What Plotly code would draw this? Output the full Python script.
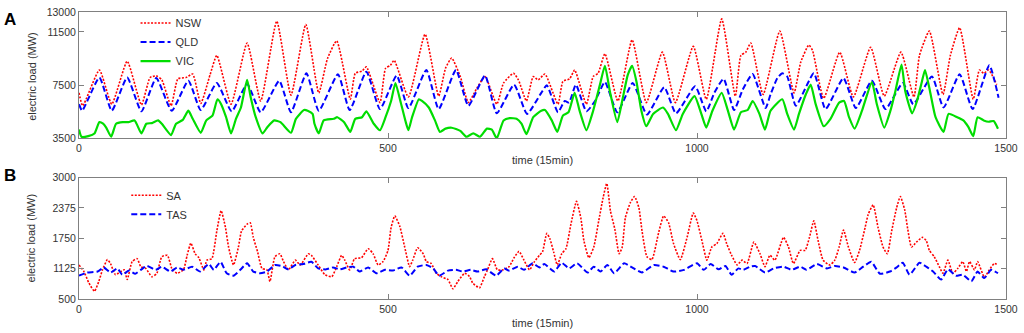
import plotly.graph_objects as go

# ---------------- Panel A data (time index in 15-min steps, load in MW) ----------------
nsw_t = [0, 6, 33, 53, 78, 101, 115, 125, 134, 149, 160, 173, 184, 197, 212, 223, 246, 272, 294, 320,
         343, 367, 388, 402, 417, 439, 447, 458, 465, 487, 496, 504, 510, 533, 560, 582, 593, 603, 617, 630,
         644, 657, 676, 687, 703, 711, 724, 735, 743, 754, 775, 783, 794, 802, 821, 832, 840, 851, 872, 895,
         918, 944, 965, 994, 1015, 1040, 1062, 1071, 1079, 1087, 1107, 1134, 1157, 1168, 1181, 1187, 1205,
         1231, 1253, 1281, 1303, 1330, 1351, 1360, 1376, 1398, 1410, 1425, 1447, 1457, 1464, 1472, 1485]
nsw_v = [6920, 5950, 8640, 6070, 9300, 6020, 8070, 8200, 7900, 5950, 7980, 8070, 8340, 6120, 8270, 9740, 6070, 10670, 6310, 12310,
         6750, 12060, 6920, 9490, 10840, 6440, 8390, 8560, 8880, 6190, 8760, 9000, 9370, 6610, 11330, 6680, 8760, 9540, 8150, 6190,
         7290, 8150, 6070, 7660, 8390, 7900, 6310, 8150, 7900, 8340, 6070, 7780, 7980, 8640, 6070, 8150, 8390, 9860, 6310, 10910,
         6190, 9980, 6190, 10420, 6440, 12480, 6680, 9740, 9980, 10670, 6800, 11570, 6920, 9250, 10520, 10100, 6510,
         9980, 6610, 10350, 6680, 9980, 6610, 9740, 11570, 6800, 9740, 11820, 6440, 8640, 8390, 8640, 7540]

qld_t = [0, 5, 33, 53, 78, 101, 125, 150, 177, 197, 223, 247, 272, 294, 324, 343, 368, 388, 419, 438,
         465, 487, 514, 533, 562, 582, 610, 630, 657, 676, 704, 725, 748, 757, 775, 786, 793, 804, 821, 835,
         851, 871, 896, 919, 947, 966, 997, 1015, 1028, 1043, 1060, 1074, 1090, 1111, 1119, 1130, 1138, 1146,
         1160, 1189, 1208, 1237, 1257, 1283, 1305, 1333, 1350, 1380, 1399, 1425, 1446, 1473, 1488]
qld_v = [6070, 5580, 8070, 5580, 8070, 5530, 8030, 5580, 7830, 5630, 7660, 5530, 7590, 5460, 7830, 5460, 8390, 5580, 8320, 5630,
         8510, 5700, 8220, 5780, 8640, 5700, 8640, 5950, 8220, 5380, 7540, 5340, 6920, 7490, 5460, 6310, 6190, 7540, 5530, 6310,
         7730, 5460, 7660, 5290, 7340, 5380, 7410, 5530, 6920, 7980, 5630, 7170, 8340, 5780, 6800, 8030, 8390, 8150,
         5950, 8390, 5700, 8030, 5780, 7830, 5700, 7660, 6070, 8150, 5820, 8320, 5700, 9000, 6560]

vic_t = [0, 4, 15, 25, 33, 39, 44, 52, 60, 71, 80, 90, 101, 109, 118, 128, 134, 149, 157, 168,
         177, 184, 197, 206, 216, 224, 230, 238, 246, 254, 262, 272, 278, 286, 297, 305, 316, 326, 343, 351,
         364, 370, 378, 381, 388, 396, 412, 418, 429, 439, 447, 458, 465, 477, 487, 496, 505, 512, 520, 528,
         533, 539, 550, 555, 566, 576, 584, 593, 603, 617, 627, 638, 649, 660, 668, 676, 687, 697, 708, 716,
         724, 735, 748, 754, 765, 774, 783, 792, 802, 810, 821, 832, 843, 851, 859, 871, 880, 888, 895, 902,
         910, 918, 929, 945, 953, 966, 977, 996, 1007, 1015, 1025, 1040, 1050, 1060, 1071, 1082, 1090, 1101,
         1110, 1119, 1138, 1146, 1157, 1165, 1176, 1184, 1192, 1205, 1216, 1230, 1238, 1246, 1255, 1267, 1283,
         1291, 1303, 1313, 1321, 1331, 1337, 1348, 1356, 1364, 1369, 1377, 1386, 1399, 1407, 1421, 1431, 1439,
         1447, 1454, 1464, 1472, 1480, 1487]
vic_v = [4160, 3620, 3670, 3870, 4720, 4600, 4310, 3620, 4600, 4720, 4720, 4850, 3870, 4600, 4650, 4850, 4600, 3750, 4600, 4890,
         5580, 4970, 3920, 4850, 5210, 6440, 6070, 5090, 3870, 4970, 5820, 7900, 6560, 5090, 3870, 4360, 4850, 4720, 3920, 4970,
         5630, 5580, 5340, 4600, 3870, 4850, 4970, 5090, 4720, 3990, 4970, 5090, 5530, 4600, 4110, 5090, 6310, 7660, 6310, 4850,
         4110, 5090, 6440, 6310, 5820, 4850, 3990, 4230, 4300, 4060, 3620, 3870, 3620, 4230, 4160, 3500, 4850, 5020, 4970, 4600,
         3820, 5090, 5580, 5630, 4850, 3990, 5210, 5460, 6920, 5580, 4110, 5580, 7540, 8960, 7050, 4720, 6560, 8270, 8960, 7780,
         5580, 4410, 5340, 5820, 5340, 4110, 5340, 6680, 5340, 4310, 5580, 6920, 5580, 4160, 5460, 5630, 6310, 5340,
         4160, 5580, 6440, 5340, 4160, 5340, 6800, 7540, 6070, 4410, 4970, 6190, 6310, 5090, 4230, 5580, 7730,
         6070, 4310, 5580, 7050, 9050, 7050, 5380, 6310, 7780, 8640, 7050, 5090, 3990, 5340, 5090, 4850, 4360,
         3670, 5090, 4850, 4750, 4800, 4230]

# ---------------- Panel B data ----------------
sa_t = [0, 8, 16, 25, 32, 38, 46, 51, 59, 73, 78, 86, 94, 100, 108, 118, 126, 134, 143, 151,
        159, 169, 175, 181, 188, 194, 202, 207, 215, 223, 230, 237, 242, 250, 258, 263, 272, 277, 282, 289,
        296, 304, 309, 317, 325, 331, 339, 350, 358, 371, 376, 387, 398, 409, 417, 425, 430, 438, 446, 457,
        468, 476, 484, 492, 500, 505, 511, 519, 527, 535, 540, 548, 557, 562, 570, 578, 586, 597, 605, 613,
        624, 632, 637, 648, 656, 661, 669, 677, 686, 696, 704, 712, 720, 729, 737, 745, 750, 757, 762, 768,
        774, 781, 788, 796, 805, 812, 817, 825, 833, 841, 848, 854, 860, 867, 874, 879, 884, 892, 899, 906,
        911, 919, 927, 938, 946, 954, 962, 973, 984, 994, 1000, 1008, 1016, 1024, 1032, 1042, 1048, 1056, 1065, 1073,
        1081, 1092, 1102, 1110, 1118, 1126, 1140, 1148, 1156, 1167, 1175, 1182, 1189, 1196, 1204, 1215, 1223, 1230,
        1237, 1245, 1255, 1263, 1272, 1277, 1285, 1293, 1301, 1308, 1315, 1323, 1329, 1336, 1341, 1347, 1355, 1365,
        1371, 1376, 1384, 1392, 1398, 1406, 1414, 1422, 1430, 1436, 1441, 1449, 1454, 1465, 1473, 1481, 1487]
sa_v = [1200, 1065, 830, 660, 860, 1100, 1310, 1230, 1000, 1100, 900, 1270, 1330, 1165, 1130, 960, 1030, 1370, 1400, 1100,
        1030, 1100, 1400, 1650, 1430, 1350, 1100, 1300, 1330, 1900, 2320, 1970, 1570, 1200, 1570, 1900, 2040, 2070, 1770, 1470,
        1130, 1100, 860, 1370, 1430, 1270, 1100, 1300, 1200, 1430, 1400, 1200, 1000, 960, 1165, 1400, 1300, 1100, 1330, 1350,
        1535, 1430, 1200, 1270, 1500, 1970, 2210, 2000, 1570, 1165, 1300, 1555, 1430, 1270, 1230, 1030, 960, 900, 710, 860,
        1030, 960, 830, 730, 960, 1100, 1330, 1100, 1100, 1165, 1350, 1480, 1300, 1100, 1270, 1400, 1470, 1850, 1740, 1470,
        1200, 1430, 1535, 2040, 2510, 2170, 1700, 1350, 1570, 2110, 2580, 2880, 2310, 1940, 1430, 1570, 2170, 2480, 2610, 2375,
        1905, 1370, 1310, 1870, 2210, 2070, 1640, 1310, 1770, 2270, 2110, 1700, 1300, 1570, 1640, 1850, 1640, 1400, 1200, 1300,
        1230, 1670, 1430, 1165, 1400, 1300, 1770, 1570, 1230, 1500, 1500, 1770, 2110, 1700, 1300, 1200, 1300, 1570,
        1920, 1570, 1250, 1500, 1970, 2240, 2440, 1970, 1570, 1430, 1900, 2375, 2610, 2340, 1940, 1570, 1670, 1770,
        1700, 1500, 1370, 1165, 1030, 1300, 1030, 1130, 1270, 1065, 1270, 1100, 1270, 950, 1100, 1230, 1200]

tas_t = [0, 13, 30, 40, 51, 62, 70, 81, 91, 100, 110, 124, 134, 148, 159, 169, 183, 196, 210, 218,
         229, 239, 250, 261, 272, 282, 293, 304, 317, 328, 339, 350, 363, 376, 387, 400, 411, 422, 433, 444,
         454, 468, 481, 495, 508, 522, 535, 548, 562, 573, 583, 597, 610, 621, 634, 645, 659, 675, 688, 696,
         710, 720, 734, 745, 753, 769, 781, 793, 806, 823, 833, 844, 855, 866, 882, 895, 911, 930, 946, 962,
         979, 1000, 1011, 1022, 1035, 1046, 1056, 1067, 1075, 1086, 1094, 1110, 1124, 1140, 1153, 1167, 1177, 1194,
         1210, 1223, 1237, 1255, 1269, 1282, 1296, 1312, 1323, 1333, 1344, 1360, 1371, 1382, 1395, 1406, 1419, 1430,
         1444, 1454, 1465, 1476, 1487]
tas_v = [980, 1045, 1065, 1150, 1045, 1130, 1000, 1085, 1020, 1100, 1180, 1100, 1165, 1065, 1150, 1100, 1165, 1065, 1220, 1100,
         1265, 1030, 980, 1100, 1235, 1065, 1030, 1065, 1200, 1180, 1110, 1200, 1220, 1265, 1130, 1110, 1150, 1110, 1150, 1165,
         1065, 1150, 1030, 1100, 1085, 1150, 980, 1165, 1200, 1130, 980, 1085, 1100, 1065, 1100, 1065, 1110, 980, 1130, 1085,
         1165, 1100, 1235, 1150, 1220, 1065, 1245, 1130, 1235, 1045, 1165, 1065, 1200, 1030, 1235, 1150, 1045, 1200, 1165, 1065,
         1100, 1235, 1100, 1220, 1110, 1180, 1000, 1130, 1100, 1165, 1180, 1045, 1130, 1165, 1100, 1165, 1100, 1220,
         1130, 1180, 1150, 1045, 1165, 1265, 1020, 1065, 1150, 1245, 1000, 1245, 1165, 1065, 900, 1110, 980, 1000,
         865, 1065, 930, 1100, 1030]

# ---------------- Axis ticks ----------------
x_ticks = [0, 500, 1000, 1500]
x_labels = ["0", "500", "1000", "1500"]
ya_ticks = [3500, 7500, 11500, 13000]
ya_labels = ["3500", "7500", "11500", "13000"]
yb_ticks = [500, 1125, 1750, 2375, 3000]
yb_labels = ["500", "1125", "1750", "2375", "3000"]

RED = "#ff0000"
BLUE = "#0000ff"
GREEN = "#00dd00"
FONT = "Liberation Sans, Arial, sans-serif"
SMOOTH = 0.5

fig = go.Figure()
fig.add_trace(go.Scatter(x=nsw_t, y=nsw_v, mode="lines", name="NSW",
                         line=dict(color=RED, width=1.6, dash="2px,1.5px", shape="spline", smoothing=SMOOTH),
                         xaxis="x", yaxis="y"))
fig.add_trace(go.Scatter(x=qld_t, y=qld_v, mode="lines", name="QLD",
                         line=dict(color=BLUE, width=2, dash="6px,3px", shape="spline", smoothing=SMOOTH),
                         xaxis="x", yaxis="y"))
fig.add_trace(go.Scatter(x=vic_t, y=vic_v, mode="lines", name="VIC",
                         line=dict(color=GREEN, width=2.2, shape="spline", smoothing=SMOOTH),
                         xaxis="x", yaxis="y"))
fig.add_trace(go.Scatter(x=sa_t, y=sa_v, mode="lines", name="SA",
                         line=dict(color=RED, width=1.6, dash="2px,1.5px", shape="spline", smoothing=SMOOTH),
                         xaxis="x2", yaxis="y2", legend="legend2"))
fig.add_trace(go.Scatter(x=tas_t, y=tas_v, mode="lines", name="TAS",
                         line=dict(color=BLUE, width=2, dash="6px,3px", shape="spline", smoothing=SMOOTH),
                         xaxis="x2", yaxis="y2", legend="legend2"))

axis_common = dict(showline=True, linecolor="#808080", linewidth=1, mirror="ticks",
                   ticks="inside", ticklen=5, tickcolor="#808080", showgrid=False, zeroline=False,
                   tickfont=dict(family=FONT, size=10.5, color="#333333"))

fig.update_layout(
    width=1024, height=333,
    margin=dict(l=79, r=14, t=6, b=34),
    paper_bgcolor="white", plot_bgcolor="white",
    font=dict(family=FONT, color="#333333"),
    xaxis=dict(domain=[0, 1], range=[0, 1500], tickvals=x_ticks, ticktext=x_labels, anchor="y", **axis_common),
    yaxis=dict(domain=[0.5597, 1], range=[3500, 13000], tickvals=ya_ticks, ticktext=ya_labels, anchor="x", **axis_common),
    xaxis2=dict(domain=[0, 1], range=[0, 1500], tickvals=x_ticks, ticktext=x_labels, anchor="y2", **axis_common),
    yaxis2=dict(domain=[0, 0.4232], range=[500, 3000], tickvals=yb_ticks, ticktext=yb_labels, anchor="x2", **axis_common),
    legend=dict(x=0.061, y=1.012, xanchor="left", yanchor="top", bgcolor="rgba(0,0,0,0)",
                font=dict(family=FONT, size=11, color="#333333"), tracegroupgap=0),
    legend2=dict(x=0.051, y=0.412, xanchor="left", yanchor="top", bgcolor="rgba(0,0,0,0)",
                 font=dict(family=FONT, size=11, color="#333333"), tracegroupgap=0),
    showlegend=True,
)

def px_to_paper(px, py):
    return (px - 79) / 931, (299 - py) / 293

annos = []
for text, (px, py), size in [("A", (10, 14), 17), ("B", (10, 173), 17)]:
    x, y = px_to_paper(px, py)
    annos.append(dict(text=f"<b>{text}</b>", x=x, y=y, xref="paper", yref="paper",
                      xanchor="center", yanchor="middle",
                      showarrow=False, font=dict(family=FONT, size=size, color="black")))
for py in (157, 323):
    x, y = px_to_paper(545, py)
    annos.append(dict(text="time (15min)", x=x, y=y, xref="paper", yref="paper", showarrow=False,
                      xanchor="center", yanchor="middle",
                      font=dict(family=FONT, size=11, color="#333333")))
for py in (72, 237):
    x, y = px_to_paper(31, py)
    annos.append(dict(text="electric load (MW)", x=x, y=y, xref="paper", yref="paper", showarrow=False,
                      xanchor="center", yanchor="middle",
                      textangle=-90, font=dict(family=FONT, size=11, color="#333333")))
fig.update_layout(annotations=annos)

fig.write_html("out.html", config={"displayModeBar": False},
               post_script="document.body.style.margin='0';document.body.style.overflow='hidden';")
